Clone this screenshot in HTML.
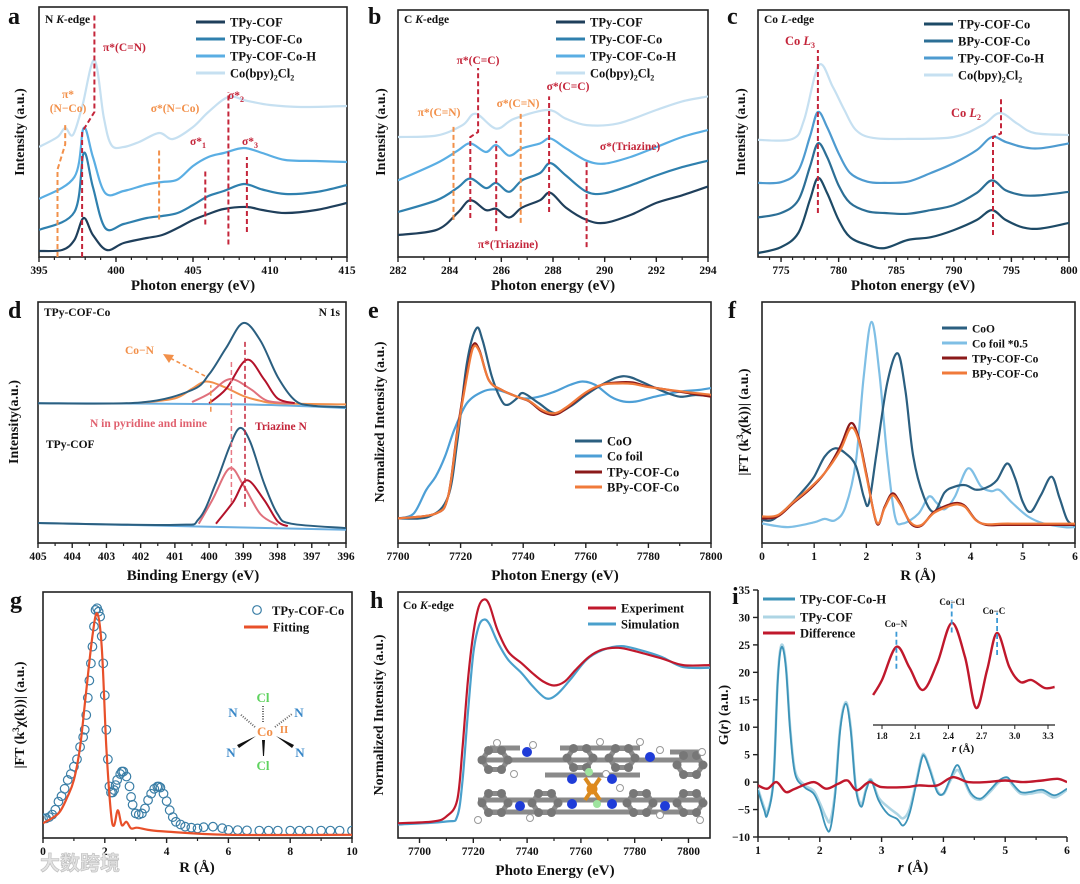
<!DOCTYPE html>
<html><head><meta charset="utf-8">
<style>
html,body{margin:0;padding:0;background:#fff;}
svg{display:block;font-family:"Liberation Serif","Noto Serif CJK SC",serif;font-weight:bold;}
</style></head>
<body>
<svg id="fig" width="1080" height="884" viewBox="0 0 1080 884" xmlns="http://www.w3.org/2000/svg"></svg>
<script>
// ---------- data (panel a: N K-edge) ----------
const a_x1=[395,396.5,397.3,397.9,398.5,399.4,400.5,402,403,404,405,406,407,408.5,409.5,411,413,415];
const a_y1=[2.4,2.8,6.8,15.6,8.8,2.8,5.6,7.6,8.8,11.6,14.8,17.2,19.2,20,18.8,17.6,18.8,21.6];
const a_x2=[395,397.3,397.9,398.5,399.3,400.5,402,403,404,405,406,407,408.3,409.5,411,413,415];
const a_y2=[10.8,18,41.6,28,11.6,13.2,15.6,16.4,17.6,20.8,24.4,26.4,29.2,27,25.2,26,28.8];
const a_y3=[23.2,32,51.6,40,25.6,26.4,29,30,31,36.4,40,41.6,43.6,41.6,38.8,38.4,38];
const a_x4=[395,396.2,396.7,397.2,397.8,398.6,399.2,399.7,400.5,401.5,402.8,403.7,405,406,407.3,408.5,410,412,415];
const a_y4=[44,48,51.6,48.8,60,78.8,56,44.8,44,46,49.6,47.2,52,58,64,62.5,60.8,60,60.4];
// ---------- panel b: C K-edge ----------
const b_x=[282,283.5,284.3,284.8,285.4,285.8,286.3,286.8,287.5,287.9,288.5,289.3,290,291,292,293,294];
const b_y1=[8.9,11,17.8,23,19,19.5,16,20,23,26,20,15,13.8,17,21.9,25,28.5];
const b_y2=[18.2,23,28,31.8,27.9,30,26.4,31,34,38,33,26.4,25.8,29,33,36.4,39];
const b_y3=[31,38,43,46,42.5,45.3,41,44,46,48,44,39,37.8,40.5,44.5,48.6,51.4];
const b_x4=[282,283.5,284.5,285,285.8,286.5,287.8,288.5,289.3,290.5,292,293,294];
const b_y4=[48.6,49.2,53.4,58,52,56,59.5,56,53.4,54,59.5,63,65];
// ---------- panel c: Co L-edge ----------
const c_x=[773,775,776.5,777.5,778.2,779,780,781,782.5,784,786,788,790,792,793.3,794.5,796,797.5,800];
const c_y1=[1.6,4,9.7,23,32,25.9,15,8,4.9,3.6,6.9,8,10.9,15,19,15,12,11.5,13.8];
const c_y2=[16,17.8,23,36.4,46,40.5,29,21.9,18.5,17.8,17.5,19,21,26,31,27,25,25,26.4];
const c_y3=[30,30.3,35,48.6,58.7,52.6,42,34,30.5,30,30.5,34,38,43.3,48.6,46.6,44.5,44,46];
const c_x4=[773,776,777,778.3,779.5,780.5,781.5,783,786,790,792.5,794,795.5,797,800];
const c_y4=[47.4,47.8,55.5,77.7,68.8,59.5,51.4,48.2,47.8,48.6,53.4,58.3,54,50.2,49.4];
// ---------- panel d: N 1s XPS ----------
const d_env1x=[405,402,400.5,400,399.5,399,398.5,398,397.5,397,396];
const d_env1y=[58,58.3,63.5,70,81,91.3,84,69,59.3,57,56.4];
const d_bg1x=[405,399,396], d_bg1y=[58,57.5,56];
const d_con_x=[402,401,400.5,400.1,399.6,399,398.5,398,396];
const d_con_y=[58.2,60,64,67,65,61,59,58,57.5];
const d_pyr1x=[400.5,400,399.4,398.8,398.3,397.5], d_pyr1y=[58.5,62,68,64,59,58];
const d_tri1x=[400,399.5,398.9,398.4,398,397.5], d_tri1y=[58,64,76,68,60,58];
const d_env2x=[405,401,400.3,399.8,399.4,399.1,398.8,398.4,398,397.6,396];
const d_env2y=[8.3,7.5,10,25,40,47.7,42,25,12,8,6.2];
const d_bg2x=[405,396], d_bg2y=[8.3,5.5];
const d_pyr2x=[400.3,399.9,399.4,399,398.5,398], d_pyr2y=[8,18,31,24,12,7.5];
const d_tri2x=[399.8,399.3,398.9,398.4,398,397.7], d_tri2y=[8,17,26,18,9,7];
// ---------- panel e: Co K-edge XANES ----------
const e_x1=[7700,7710,7716,7719,7722,7725,7727,7730,7733,7735,7738,7740,7745,7750,7755,7760,7765,7770,7774,7780,7785,7790,7795,7800];
const e_y1=[10.2,11,19.3,42.7,74.6,89,84.2,69,59.3,57.3,60,62.2,58,53.9,56.6,61.4,65.6,68.7,68.9,65.6,62.8,60.7,61.4,61];
const e_x2=[7700,7705,7709,7712,7715,7718,7722,7727,7731,7735,7740,7745,7750,7755,7759,7763,7768,7772,7776,7782,7790,7796,7800];
const e_y2=[10.2,12.2,22,27.5,35.8,47,58,62.8,63.7,62.2,60,60.7,62.8,65.6,67,65.6,60.7,58.7,58.7,60.7,62.8,63.5,64.3];
const e_x3=[7700,7712,7716,7719,7722,7724,7726,7729,7733,7738,7742,7746,7750,7754,7760,7765,7770,7775,7780,7790,7800];
const e_y3=[10.2,12.2,19.3,47,70.4,82.2,80,67.6,63.6,60.7,58.7,54.6,53.2,56,62.2,65.6,66.6,66.6,64.9,62.8,60.7];
const e_y4=[10.2,12.2,19.3,46,69,81,79.5,67.6,63.6,60.7,58.9,55.2,53.8,56.5,62.5,65.6,66.2,66,64.7,63,61.5];
// ---------- panel f: FT-EXAFS ----------
const f_x1=[0,0.2,0.5,0.8,1.0,1.2,1.4,1.6,1.8,1.95,2.05,2.2,2.4,2.6,2.75,2.9,3.1,3.3,3.5,3.7,3.9,4.1,4.3,4.5,4.7,4.85,5.0,5.15,5.35,5.55,5.7,5.85,6.0];
const f_y1=[9.6,9.6,15,22,27.5,35.8,39.3,37.2,32,19.3,16.6,38,66.3,78.7,63,35.8,19.3,12.9,21,23.4,24,22.1,23,26,33,27,17,12.9,20,27.5,19,9.6,7.1];
const f_x2=[0,0.5,1.0,1.2,1.4,1.6,1.8,1.95,2.1,2.25,2.4,2.55,2.7,3.0,3.2,3.35,3.5,3.7,3.95,4.2,4.4,4.55,4.8,5.1,5.4,5.8,6.0];
const f_y2=[8.1,6.6,8.6,10,9.4,15,33.8,69,91.8,70.4,35.8,11,8.1,12.2,19.3,16.6,14,19.3,31,23.4,21.5,22,16.6,11,8.1,6.6,6.6];
const f_x3=[0,0.3,0.6,0.9,1.2,1.5,1.7,1.85,2.0,2.2,2.35,2.5,2.65,2.85,3.05,3.3,3.6,3.75,3.9,4.1,4.3,4.6,5.0,6.0];
const f_y3=[10.2,11,16.6,22,29,40,49.7,44,28.9,8.1,15,20.6,16.6,8.1,7.1,12.9,16,16.6,15.2,9.6,7.5,7.5,7.5,7.5];
const f_y4=[11,11.5,17,22.5,29,38.5,47.7,43,28,8.5,14.5,19.8,16,8.5,7.4,12.5,15.4,16,14.8,9.4,7.8,8,8,8];
// ---------- panel g: fit ----------
const g_ox=[0,0.1,0.2,0.3,0.4,0.5,0.6,0.7,0.8,0.9,1.0,1.1,1.2,1.3,1.35,1.4,1.45,1.5,1.55,1.6,1.65,1.7,1.75,1.8,1.85,1.9,1.95,2.0,2.05,2.1,2.15,2.2,2.25,2.3,2.35,2.4,2.5,2.55,2.6,2.7,2.8,2.85,2.9,3.0,3.1,3.2,3.3,3.4,3.5,3.6,3.7,3.75,3.8,3.9,4.0,4.1,4.2,4.3,4.45,4.6,4.8,5.0,5.2,5.5,5.8,6,6.3,6.6,7,7.3,7.6,8,8.3,8.6,9,9.3,9.6,10];
const g_oy=[8,8,8.5,9.5,11.5,14.8,17,20,23.6,26,29,32,37,41,44,50,57,64,71,77.8,86,92.7,93.4,92,90,82,71,58,44,32,21,18.5,18.5,19.5,21.5,23.6,26,27,27,25,21,16.7,13.5,10,9.5,10,12,15.4,18,20,20.9,20.9,20.5,18,15,11.3,8.5,6.6,5.5,4.6,4.2,3.9,4.4,4.6,4,3.3,3.2,3.1,3,3,3,3,3,3,3,3,3,3];
const g_fx=[0,0.5,0.8,1.0,1.2,1.4,1.6,1.75,1.9,2.05,2.2,2.3,2.42,2.55,2.7,2.85,3.05,3.4,4,6,10];
const g_fy=[6,10,17,23.6,37,60,82,91.3,77.8,37,10,5,11.3,5.2,6.6,3.9,4.2,3.3,2.6,1.3,1.3];
// ---------- panel h: experiment vs simulation ----------
const h_x1=[7692,7705,7710,7714,7716,7718,7720,7722,7724,7726,7729,7733,7738,7742,7746,7750,7754,7758,7763,7768,7774,7780,7790,7798,7808];
const h_y1=[6,6.7,8.8,15.4,37,64,83,94,97,94.7,84.5,75.7,71,67,63.6,62,63.6,68.3,73.6,76.6,77.3,76,73,70.3,70.3];
const h_x2=[7692,7710,7714,7716,7718,7720,7722,7724,7726,7729,7733,7738,7742,7747,7751,7756,7762,7768,7775,7782,7790,7798,7808];
const h_y2=[5.5,6.7,8.8,23.6,50.8,75,86,88.8,87,79.7,72.4,67,61.8,56.8,58.3,64.3,72.4,76.4,78,76.4,73.6,69.5,69.2];
// ---------- panel i: PDF ----------
const i_x1=[1.0,1.1,1.15,1.25,1.32,1.38,1.45,1.52,1.6,1.75,1.9,2.0,2.1,2.17,2.25,2.33,2.42,2.5,2.58,2.67,2.75,2.83,2.95,3.1,3.25,3.35,3.45,3.55,3.65,3.7,3.78,3.9,4.0,4.1,4.22,4.32,4.45,4.6,4.75,4.9,5.03,5.12,5.25,5.4,5.6,5.8,6.0];
const i_y1=[-1.5,-5.1,-6,0.3,18.6,24.6,21,9.5,1.5,-0.9,-2.1,-4.5,-8.2,-8.5,-2.1,9.5,14.3,9.5,-0.9,-4.5,-1.5,0.3,-3.3,-5.8,-6.7,-7.9,-5.8,-0.9,4.3,4.6,2.2,-1.8,-2.1,0.3,3.1,1,-2.1,-3,-1.5,0.3,0.9,-0.3,-1.8,-1.8,-1.4,-2.4,-1.2];
const i_y2=[-1.2,-4.6,-5.5,0.5,19,25,21.5,10,2,-0.5,-1.6,-3.8,-6.4,-7,-1.5,10,14.6,10,-0.5,-4,-1.2,0.5,-2.8,-4.5,-5.8,-6.6,-5,-0.5,4.6,4.8,2.5,-1.5,-2.2,0,2.2,0.6,-2.4,-3.2,-1.8,0,0.7,-0.6,-2.1,-2.1,-1.8,-2.8,-1.4];
const i_dx=[1.0,1.15,1.3,1.45,1.6,1.9,2.1,2.3,2.45,2.6,2.8,3.0,3.4,3.6,3.9,4.15,4.4,4.7,5.0,5.3,5.6,5.85,6.0];
const i_dy=[-0.6,-1.2,0,-1.8,-1.2,0,-1.2,-0.3,0.3,-1.5,0,-0.9,-0.9,-0.6,-0.6,0.9,0,0,0.3,0,0.3,0.6,0];
const i_inx=[1.72,1.8,1.93,2.05,2.17,2.3,2.43,2.55,2.65,2.75,2.84,2.95,3.05,3.15,3.27,3.36];
const i_iny=[24,36,62.6,45.6,28,49.6,81.6,54.4,13.6,44,73.6,46.4,34.4,36,29.6,30.4];
const i_ticks=[-10,-5,0,5,10,15,20,25,30,35];
const i_inticks=[1.8,2.1,2.4,2.7,3.0,3.3];

// ---------- helpers ----------
const NS='http://www.w3.org/2000/svg';
const svg=document.getElementById('fig');
function mk(tag,a,parent){const e=document.createElementNS(NS,tag);for(const k in a)e.setAttribute(k,a[k]);(parent||svg).appendChild(e);return e;}
function txt(x,y,s,size,opt,parent){opt=opt||{};const e=mk('text',{x:x,y:y,'font-size':size,fill:opt.fill||'#111','text-anchor':opt.anchor||'start'},parent);if(opt.rot)e.setAttribute('transform','rotate(-90 '+x+' '+y+')');if(opt.italic)e.setAttribute('font-style','italic');if(opt.family)e.setAttribute('font-family',opt.family);e.innerHTML=s;return e;}
function axes(p){
  const g=mk('g',{});
  
  
  const sx=v=>p.L+(v-p.xmin)/(p.xmax-p.xmin)*(p.R-p.L);
  const sy=v=>p.B-(v-p.ymin)/(p.ymax-p.ymin)*(p.B-p.T);
  if(p.box){const r=mk('rect',{x:p.L,y:p.T,width:p.R-p.L,height:p.B-p.T,fill:'none',stroke:'#222','stroke-width':1.6},g);
    }
  else{mk('line',{x1:p.L,y1:p.T,x2:p.L,y2:p.B,stroke:'#222','stroke-width':1.6},g);mk('line',{x1:p.L,y1:p.B,x2:p.R,y2:p.B,stroke:'#222','stroke-width':1.6},g);}
  (p.minor||[]).forEach(v=>{mk('line',{x1:sx(v),y1:p.B,x2:sx(v),y2:p.B+3,stroke:'#222','stroke-width':1.2},g);});
  p.ticks.forEach(v=>{mk('line',{x1:sx(v),y1:p.B,x2:sx(v),y2:p.B+5,stroke:'#222','stroke-width':1.4},g);
    const t=txt(sx(v),p.B+17,String(v),11.5,{anchor:'middle'},g);
    });
  const cid='clip'+p.name;const cp=mk('clipPath',{id:cid});mk('rect',{x:p.L,y:p.T,width:p.R-p.L,height:p.B-p.T},cp);
  const pg=mk('g',{'clip-path':'url(#'+cid+')'});
  
  return {sx,sy,g,pg,p};
}
function smooth(pts){let d='M'+pts[0][0].toFixed(1)+','+pts[0][1].toFixed(1);
  for(let i=0;i<pts.length-1;i++){const p0=pts[i-1]||pts[i],p1=pts[i],p2=pts[i+1],p3=pts[i+2]||p2;
    d+=' C'+(p1[0]+(p2[0]-p0[0])/6).toFixed(1)+','+(p1[1]+(p2[1]-p0[1])/6).toFixed(1)+' '+(p2[0]-(p3[0]-p1[0])/6).toFixed(1)+','+(p2[1]-(p3[1]-p1[1])/6).toFixed(1)+' '+p2[0].toFixed(1)+','+p2[1].toFixed(1);}
  return d;}
function curve(ax,xs,ys,color,w,name){const pts=xs.map((x,i)=>[ax.sx(x),ax.sy(ys[i])]);
  const e=mk('path',{d:smooth(pts),fill:'none',stroke:color,'stroke-width':w,'stroke-linejoin':'round'},ax.pg);
  return e;}
function dline(ax,pts,color,name,w){const e=mk('polyline',{points:pts.map(q=>ax.sx(q[0]).toFixed(1)+','+ax.sy(q[1]).toFixed(1)).join(' '),fill:'none',stroke:color,'stroke-width':w||2,'stroke-dasharray':'5,3'},svg);
  return e;}
function legendLine(x,y,len,color,label,name,w,size){const g=mk('g',{});
  
  mk('line',{x1:x,y1:y,x2:x+len,y2:y,stroke:color,'stroke-width':w||3},g);txt(x+len+5,y+4.5,label,size||12.5,{},g);}
function letter(x,y,s){const t=txt(x,y,s,24,{family:'"Liberation Serif",serif'});}
function xtitle(x,y,s){const t=txt(x,y,s,15,{anchor:'middle'});}
function ytitle(x,y,s){const t=txt(x,y,s,14,{anchor:'middle',rot:true});}
function range(a,b,s){const r=[];for(let v=a;v<=b+1e-9;v+=s)r.push(Math.round(v*1000)/1000);return r;}
const RED='#c4253a',ORG='#f2904a';
const C1='#1f3f5b',C2='#2f80ae',C3='#5aaee3',C4='#c6e0f1';

// ===== panel a =====
const A=axes({name:'panel-a',L:39,R:347,T:7,B:257,xmin:395,xmax:415,ymin:0,ymax:100,box:true,ticks:[395,400,405,410,415],minor:range(396,414,1)});
curve(A,a_x4,a_y4,C4,2.2,'series-cobpy2cl2');
curve(A,a_x2,a_y3,C3,2.2,'series-tpy-cof-co-h');
curve(A,a_x2,a_y2,C2,2.2,'series-tpy-cof-co');
curve(A,a_x1,a_y1,C1,2.2,'series-tpy-cof');
dline(A,[[396.2,0],[396.2,35],[396.7,45],[396.7,53]],ORG,'marker-pi-n-co');
dline(A,[[402.8,15],[402.8,43]],ORG,'marker-sigma-n-co');
dline(A,[[397.8,0],[397.8,50],[398.6,58],[398.6,97]],RED,'marker-pi-cn');
dline(A,[[405.8,13],[405.8,35]],RED,'marker-sigma1');
dline(A,[[407.3,5],[407.3,66]],RED,'marker-sigma2');
dline(A,[[408.5,10],[408.5,40]],RED,'marker-sigma3');
txt(68,98,'π*',11.5,{fill:ORG,anchor:'middle'});txt(68,112,'(N−Co)',11.5,{fill:ORG,anchor:'middle'});
txt(175,112,'σ*(N−Co)',11.5,{fill:ORG,anchor:'middle'});
txt(103,51,'π*(C=N)',11.5,{fill:RED});
txt(190,145,'σ*<tspan font-size="8" dy="3">1</tspan>',11.5,{fill:RED});
txt(228,99,'σ*<tspan font-size="8" dy="3">2</tspan>',11.5,{fill:RED});
txt(242,145,'σ*<tspan font-size="8" dy="3">3</tspan>',11.5,{fill:RED});
txt(45,23,'N <tspan font-style="italic">K</tspan>-edge',11.5,{});
legendLine(196,22,29,C1,'TPy-COF','legend-tpy-cof');
legendLine(196,39,29,C2,'TPy-COF-Co','legend-tpy-cof-co');
legendLine(196,56,29,C3,'TPy-COF-Co-H','legend-tpy-cof-co-h');
legendLine(196,73,29,C4,'Co(bpy)<tspan font-size="8" dy="3">2</tspan><tspan dy="-3">Cl</tspan><tspan font-size="8" dy="3">2</tspan>','legend-cobpy2cl2');
letter(8,24,'a');xtitle(193,290,'Photon energy (eV)');ytitle(24,132,'Intensity (a.u.)');

// ===== panel b =====
const Bx=axes({name:'panel-b',L:398,R:708,T:10,B:257,xmin:282,xmax:294,ymin:0,ymax:100,box:true,ticks:[282,284,286,288,290,292,294],minor:range(283,293,1)});
curve(Bx,b_x4,b_y4,C4,2.2,'series-cobpy2cl2');
curve(Bx,b_x,b_y3,C3,2.2,'series-tpy-cof-co-h');
curve(Bx,b_x,b_y2,C2,2.2,'series-tpy-cof-co');
curve(Bx,b_x,b_y1,C1,2.2,'series-tpy-cof');
dline(Bx,[[284.15,15],[284.15,53]],ORG,'marker-pi-cn');
dline(Bx,[[284.8,15.8],[284.8,48.6],[285.1,50.6],[285.1,76.5]],RED,'marker-pi-cc');
dline(Bx,[[285.8,10.5],[285.8,47]],RED,'marker-pi-triazine');
dline(Bx,[[286.75,13.8],[286.75,58]],ORG,'marker-sigma-cn');
dline(Bx,[[287.85,18.2],[287.85,65]],RED,'marker-sigma-cc');
dline(Bx,[[289.3,4],[289.3,39]],RED,'marker-sigma-triazine');
txt(439,116,'π*(C=N)',11.5,{fill:ORG,anchor:'middle'});
txt(478,64,'π*(C=C)',11.5,{fill:RED,anchor:'middle'});
txt(508,248,'π*(Triazine)',11.5,{fill:RED,anchor:'middle'});
txt(518,107,'σ*(C=N)',11.5,{fill:ORG,anchor:'middle'});
txt(568,90,'σ*(C=C)',11.5,{fill:RED,anchor:'middle'});
txt(630,150,'σ*(Triazine)',11.5,{fill:RED,anchor:'middle'});
txt(404,23,'C <tspan font-style="italic">K</tspan>-edge',11.5,{});
legendLine(556,22,29,C1,'TPy-COF','legend-tpy-cof');
legendLine(556,39,29,C2,'TPy-COF-Co','legend-tpy-cof-co');
legendLine(556,56,29,C3,'TPy-COF-Co-H','legend-tpy-cof-co-h');
legendLine(556,73,29,C4,'Co(bpy)<tspan font-size="8" dy="3">2</tspan><tspan dy="-3">Cl</tspan><tspan font-size="8" dy="3">2</tspan>','legend-cobpy2cl2');
letter(368,24,'b');xtitle(553,290,'Photon energy (eV)');ytitle(385,132,'Intensity (a.u.)');

// ===== panel c =====
const Cx=axes({name:'panel-c',L:758,R:1069,T:10,B:257,xmin:773,xmax:800,ymin:0,ymax:100,box:true,ticks:[775,780,785,790,795,800],minor:range(774,799,1)});
curve(Cx,c_x4,c_y4,C4,2.2,'series-cobpy2cl2');
curve(Cx,c_x,c_y3,'#4e9bd0',2.2,'series-tpy-cof-co-h');
curve(Cx,c_x,c_y2,'#2c6f96',2.2,'series-bpy-cof-co');
curve(Cx,c_x,c_y1,'#1d4a66',2.2,'series-tpy-cof-co');
dline(Cx,[[778.2,17.8],[778.2,83.8]],RED,'marker-co-l3');
dline(Cx,[[793.4,8.9],[793.4,48.6],[794.1,50],[794.1,65]],RED,'marker-co-l2');
txt(800,45,'Co <tspan font-style="italic">L</tspan><tspan font-size="8" dy="3">3</tspan>',12.5,{fill:RED,anchor:'middle'});
txt(951,117,'Co <tspan font-style="italic">L</tspan><tspan font-size="8" dy="3">2</tspan>',12.5,{fill:RED});
txt(764,23,'Co <tspan font-style="italic">L</tspan>-edge',11.5,{});
legendLine(924,24,29,'#1d4a66','TPy-COF-Co','legend-tpy-cof-co');
legendLine(924,41,29,'#2c6f96','BPy-COF-Co','legend-bpy-cof-co');
legendLine(924,58,29,'#4e9bd0','TPy-COF-Co-H','legend-tpy-cof-co-h');
legendLine(924,75,29,C4,'Co(bpy)<tspan font-size="8" dy="3">2</tspan><tspan dy="-3">Cl</tspan><tspan font-size="8" dy="3">2</tspan>','legend-cobpy2cl2');
letter(727,24,'c');xtitle(913,290,'Photon energy (eV)');ytitle(745,132,'Intensity (a.u.)');

// ===== panel d =====
const D=axes({name:'panel-d',L:38,R:346,T:302,B:543,xmin:405,xmax:396,ymin:0,ymax:100,box:true,ticks:[405,404,403,402,401,400,399,398,397,396],minor:range(396.5,404.5,1)});
curve(D,d_bg1x,d_bg1y,'#6aaee0',2,'series-background-top');
curve(D,d_con_x,d_con_y,ORG,2,'series-co-n-component');
curve(D,d_pyr1x,d_pyr1y,'#e0707c',2,'series-pyridine-top');
curve(D,d_tri1x,d_tri1y,'#b3122a',2,'series-triazine-top');
curve(D,d_env1x,d_env1y,'#2b5f80',2,'series-envelope-top');
curve(D,d_bg2x,d_bg2y,'#6aaee0',2,'series-background-bottom');
curve(D,d_pyr2x,d_pyr2y,'#e0707c',2,'series-pyridine-bottom');
curve(D,d_tri2x,d_tri2y,'#b3122a',2,'series-triazine-bottom');
curve(D,d_env2x,d_env2y,'#2b5f80',2,'series-envelope-bottom');
dline(D,[[399.35,16.6],[399.35,75.2]],'#e87a86','marker-pyridine',1.5);
dline(D,[[398.95,15],[398.95,83.5]],RED,'marker-triazine',1.5);
dline(D,[[399.95,54.5],[399.95,65.5]],ORG,'marker-co-n',1.5);
{const ar=mk('line',{x1:205,y1:376,x2:170,y2:358,stroke:ORG,'stroke-width':1.6,'stroke-dasharray':'4,3'});}
mk('path',{d:'M163,354 L174,355 L169,363 Z',fill:ORG});
txt(125,354,'Co−N',11.5,{fill:ORG});
txt(90,427,'N in pyridine and imine',11.5,{fill:'#e0606e'});
txt(255,430,'Triazine N',11.5,{fill:RED});
txt(44,316,'TPy-COF-Co',11.5,{});txt(340,316,'N 1s',11.5,{anchor:'end'});txt(46,448,'TPy-COF',11.5,{});
letter(8,318,'d');xtitle(193,580,'Binding Energy (eV)');ytitle(18,422,'Intensity(a.u.)');

// ===== panel e =====
const E=axes({name:'panel-e',L:398,R:711,T:302,B:543,xmin:7700,xmax:7800,ymin:0,ymax:100,box:true,ticks:[7700,7720,7740,7760,7780,7800],minor:range(7710,7790,20)});
curve(E,e_x2,e_y2,'#4d9fd6',2.2,'series-co-foil');
curve(E,e_x1,e_y1,'#2b5f80',2.2,'series-coo');
curve(E,e_x3,e_y3,'#8b1a1a',2.2,'series-tpy-cof-co');
curve(E,e_x3,e_y4,'#f07a3a',2.2,'series-bpy-cof-co');
legendLine(575,441,27,'#2b5f80','CoO','legend-coo');
legendLine(575,456,27,'#4d9fd6','Co foil','legend-co-foil');
legendLine(575,472,27,'#8b1a1a','TPy-COF-Co','legend-tpy-cof-co');
legendLine(575,487,27,'#f07a3a','BPy-COF-Co','legend-bpy-cof-co');
letter(368,318,'e');xtitle(555,580,'Photon Energy (eV)');ytitle(384,422,'Normalized Intensity (a.u.)');

// ===== panel f =====
const F=axes({name:'panel-f',L:762,R:1075,T:302,B:543,xmin:0,xmax:6,ymin:0,ymax:100,box:true,ticks:[0,1,2,3,4,5,6],minor:range(0.5,5.5,1)});
curve(F,f_x2,f_y2,'#7fbfe5',2.2,'series-co-foil');
curve(F,f_x1,f_y1,'#2b5f80',2.2,'series-coo');
curve(F,f_x3,f_y3,'#8b1a1a',2.2,'series-tpy-cof-co');
curve(F,f_x3,f_y4,'#f07a3a',2.2,'series-bpy-cof-co');
legendLine(942,328,25,'#2b5f80','CoO','legend-coo',3,11.5);
legendLine(942,343,25,'#7fbfe5','Co foil *0.5','legend-co-foil',3,11.5);
legendLine(942,358,25,'#8b1a1a','TPy-COF-Co','legend-tpy-cof-co',3,11.5);
legendLine(942,373,25,'#f07a3a','BPy-COF-Co','legend-bpy-cof-co',3,11.5);
letter(728,318,'f');xtitle(918,580,'R (Å)');ytitle(748,422,'|FT (k<tspan font-size="9" dy="-5">3</tspan><tspan dy="5">χ(k))| (a.u.)</tspan>');

// ===== panel g =====
const G=axes({name:'panel-g',L:43,R:352,T:592,B:838,xmin:0,xmax:10,ymin:0,ymax:100,box:true,ticks:[0,2,4,6,8,10],minor:range(1,9,2)});
g_ox.forEach((x,i)=>{const c=mk('circle',{cx:G.sx(x),cy:G.sy(g_oy[i]),r:4.3,fill:'none',stroke:'#3a7ea6','stroke-width':1.2},G.pg);
  
  });
curve(G,g_fx,g_fy,'#e8502a',2.2,'series-fitting');
{const c=mk('circle',{cx:257,cy:610,r:4.3,fill:'none',stroke:'#3a7ea6','stroke-width':1.2});
 txt(272,615,'TPy-COF-Co',12.5,{});}
legendLine(244,627,24,'#e8502a','Fitting','legend-fitting');
{const mg=mk('g',{});
 mk('line',{x1:263,y1:722,x2:263,y2:705,stroke:'#666','stroke-width':2,'stroke-dasharray':'1,1.5'},mg);
 mk('line',{x1:255,y1:727,x2:240,y2:714,stroke:'#666','stroke-width':2,'stroke-dasharray':'1,1.5'},mg);
 mk('line',{x1:275,y1:727,x2:292,y2:714,stroke:'#666','stroke-width':2,'stroke-dasharray':'1,1.5'},mg);
 mk('path',{d:'M256,736 L237,745 L239,748 Z',fill:'#111'},mg);
 mk('path',{d:'M276,736 L294,745 L292,748 Z',fill:'#111'},mg);
 mk('path',{d:'M262,740 L265,740 L264,756 L263,756 Z',fill:'#111'},mg);
 txt(263,702,'Cl',13,{fill:'#5fd35f',anchor:'middle'},mg);txt(263,770,'Cl',13,{fill:'#5fd35f',anchor:'middle'},mg);
 txt(233,717,'N',13,{fill:'#3a88c8',anchor:'middle'},mg);txt(299,717,'N',13,{fill:'#3a88c8',anchor:'middle'},mg);
 txt(231,757,'N',13,{fill:'#3a88c8',anchor:'middle'},mg);txt(300,757,'N',13,{fill:'#3a88c8',anchor:'middle'},mg);
 txt(265,736,'Co',13,{fill:ORG,anchor:'middle'},mg);txt(284,733,'II',11,{fill:ORG,anchor:'middle'},mg);}
letter(10,608,'g');xtitle(197,872,'R (Å)');ytitle(24,715,'|FT (k<tspan font-size="9" dy="-5">3</tspan><tspan dy="5">χ(k))| (a.u.)</tspan>');
{const w=txt(40,870,'大数跨境',20,{fill:'#e2e2e2',family:'"Noto Sans CJK SC",sans-serif'});w.setAttribute('stroke','#bbb');w.setAttribute('stroke-width','0.6');}

// ===== panel h =====
const H=axes({name:'panel-h',L:398,R:710,T:592,B:838,xmin:7692,xmax:7808,ymin:0,ymax:100,box:true,ticks:[7700,7720,7740,7760,7780,7800],minor:range(7710,7790,20)});
curve(H,h_x2,h_y2,'#4aa0cc',2.2,'series-simulation');
curve(H,h_x1,h_y1,'#c0182c',2.2,'series-experiment');
legendLine(588,608,28,'#c0182c','Experiment','legend-experiment');
legendLine(588,624,28,'#4aa0cc','Simulation','legend-simulation');
txt(403,609,'Co <tspan font-style="italic">K</tspan>-edge',11.5,{});
{const mg=mk('g',{});
 const bonds=[[478,760,700,760],[478,800,705,800],[490,748,520,748],[560,748,640,748],[670,752,700,752],[545,775,640,775],[490,812,700,812]];
 bonds.forEach(b=>mk('line',{x1:b[0],y1:b[1],x2:b[2],y2:b[3],stroke:'#8a8a8a','stroke-width':5},mg));
 const rings=[[495,760],[580,758],[622,758],[690,765],[495,803],[545,803],[640,803],[690,803]];
 rings.forEach(r=>{mk('polygon',{points:[0,1,2,3,4,5].map(k=>(r[0]+13*Math.cos(k*Math.PI/3)).toFixed(1)+','+(r[1]+11*Math.sin(k*Math.PI/3)).toFixed(1)).join(' '),fill:'none',stroke:'#8a8a8a','stroke-width':5},mg);
   [0,1,2,3,4,5].forEach(k=>mk('circle',{cx:r[0]+13*Math.cos(k*Math.PI/3),cy:r[1]+11*Math.sin(k*Math.PI/3),r:4.5,fill:'#777'},mg));});
 [[497,743],[514,774],[533,745],[600,742],[640,742],[606,774],[660,750],[702,752],[478,820],[530,818],[620,788],[660,815],[700,820]].forEach(h=>mk('circle',{cx:h[0],cy:h[1],r:3.5,fill:'#fff',stroke:'#999'},mg));
 [[527,752],[572,779],[612,779],[572,804],[612,804],[650,757],[520,806],[665,806]].forEach(n=>mk('circle',{cx:n[0],cy:n[1],r:5,fill:'#1f3cd8'},mg));
 mk('line',{x1:585,y1:778,x2:600,y2:800,stroke:'#d98a20','stroke-width':4},mg);
 mk('line',{x1:600,y1:778,x2:585,y2:800,stroke:'#d98a20','stroke-width':4},mg);
 mk('circle',{cx:592,cy:789,r:5.5,fill:'#e08a1c'},mg);
 mk('circle',{cx:589,cy:772,r:4,fill:'#9ee39e'},mg);mk('circle',{cx:597,cy:804,r:4,fill:'#9ee39e'},mg);}
letter(370,608,'h');xtitle(555,875,'Photo Energy (eV)');ytitle(383,715,'Normalized Intensity (a.u.)');

// ===== panel i =====
const I=axes({name:'panel-i',L:758,R:1067,T:590,B:837,xmin:1,xmax:6,ymin:-10,ymax:35,box:false,ticks:[1,2,3,4,5,6],minor:range(1.5,5.5,1)});
i_ticks.forEach(v=>{mk('line',{x1:758,y1:I.sy(v),x2:753,y2:I.sy(v),stroke:'#222','stroke-width':1.4});
  const t=txt(750,I.sy(v)+4,String(v).replace('-','−'),11.5,{anchor:'end'});
  
  });
curve(I,i_x1,i_y2,'#aed5e4',2.6,'series-tpy-cof');
curve(I,i_x1,i_y1,'#3c93b8',1.8,'series-tpy-cof-co-h');
curve(I,i_dx,i_dy,'#c0182c',2.4,'series-difference');
legendLine(763,599,32,'#3c93b8','TPy-COF-Co-H','legend-tpy-cof-co-h');
legendLine(763,617,32,'#aed5e4','TPy-COF','legend-tpy-cof');
legendLine(763,633,32,'#c0182c','Difference','legend-difference');
const IN={sx:v=>882+(v-1.8)/0.3*33.2,sy:v=>725-v*1.25,pg:svg};
{const ig=mk('g',{});
 mk('line',{x1:873,y1:725,x2:1055,y2:725,stroke:'#222','stroke-width':1.3},ig);
 i_inticks.forEach(v=>{mk('line',{x1:IN.sx(v),y1:725,x2:IN.sx(v),y2:729,stroke:'#222'},ig);txt(IN.sx(v),739,v.toFixed(1),9,{anchor:'middle'},ig);});
 txt(963,752,'<tspan font-style="italic">r</tspan> (Å)',11,{anchor:'middle'},ig);}
curve(IN,i_inx,i_iny,'#c0182c',2.4,'inset-difference');
dline(IN,[[1.93,45],[1.93,75]],'#3c9ad6','inset-marker-co-n',1.8);
dline(IN,[[2.43,74],[2.43,100]],'#3c9ad6','inset-marker-co-cl',1.8);
dline(IN,[[2.84,56],[2.84,90]],'#3c9ad6','inset-marker-co-c',1.8);
txt(896,627,'Co−N',9,{anchor:'middle'});txt(952,605,'Co−Cl',9,{anchor:'middle'});txt(994,614,'Co−C',9,{anchor:'middle'});
letter(732,604,'i');xtitle(913,872,'<tspan font-style="italic">r</tspan> (Å)');ytitle(728,715,'G(<tspan font-style="italic">r</tspan>) (a.u.)');
</script>
</body></html>
